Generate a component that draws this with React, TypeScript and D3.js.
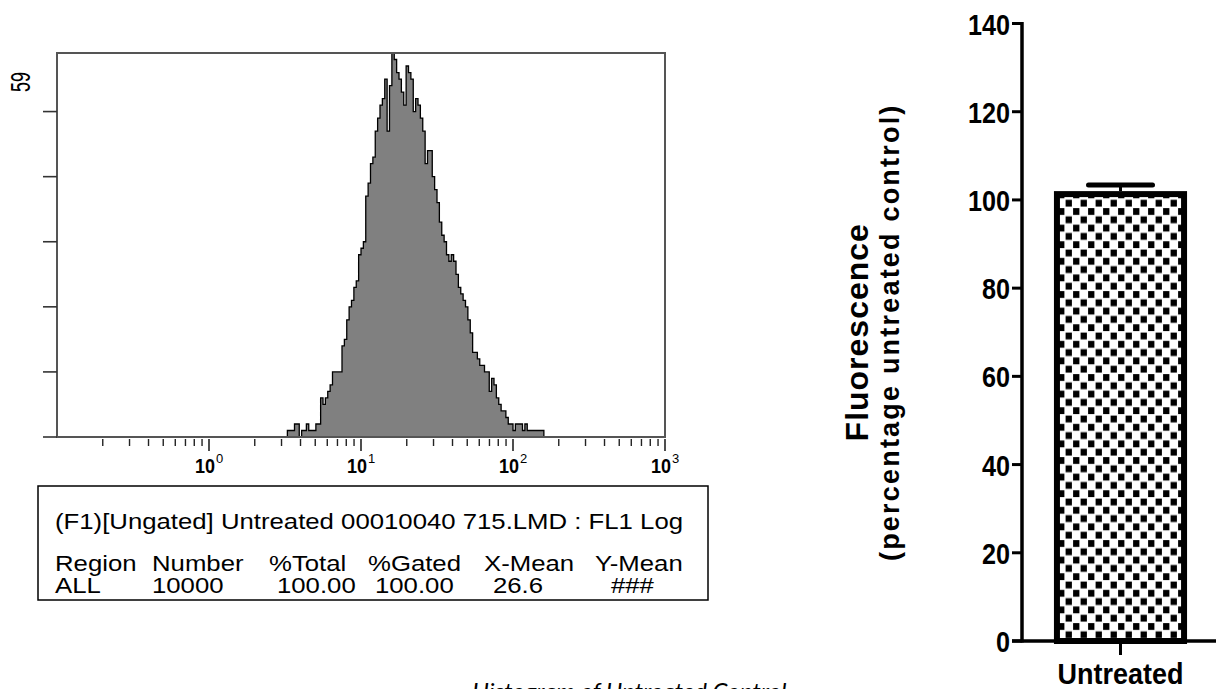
import React from 'react';
import * as d3 from 'd3';

// ---------------- Histogram (FL1 log, 64 channels per decade) ----------------
const histFirstChannel = 97;
const histCounts = [
  1, 1, 1, 2, 2, 0, 1, 1, 2, 1, 1, 1, 2, 2, 6, 5, 6, 7, 8, 10, 10, 10, 10, 14, 15, 18,
  20, 21, 23, 24, 28, 29, 30, 37, 39, 42, 43, 47, 49, 51, 52, 55, 47, 54, 59, 58, 56,
  55, 53, 51, 57, 56, 55, 50, 52, 51, 49, 47, 42, 44, 44, 40, 38, 36, 33, 31, 30, 28,
  27, 28, 27, 25, 23, 22, 21, 20, 18, 16, 13, 13, 12, 11, 11, 10, 10, 7, 9, 8, 6, 5, 4,
  4, 3, 2, 2, 1, 2, 2, 2, 1, 2, 1, 1, 1, 1, 1, 1, 1,
];
const channelsPerDecade = 64;
const histDomain = [0.1, 1000];
const histMajorExp = [0, 1, 2, 3];
const histMinorMult = [2, 3, 4, 5, 6, 7, 8, 9];
const histMinorExp = [-1, 0, 1, 2];
const histYTicks = [0, 10, 20, 30, 40, 50];
const histYMax = 59;

// ---------------- Stats box ----------------
const statsHeader = '(F1)[Ungated] Untreated 00010040 715.LMD : FL1 Log';
const statsColumns = ['Region', 'Number', '%Total', '%Gated', 'X-Mean', 'Y-Mean'];
const statsValues = ['ALL', '10000', '100.00', '100.00', '26.6', '###'];
const caption = 'Histogram of Untreated Control';

// ---------------- Bar chart ----------------
const barCategories = ['Untreated'];
const barValues = [102];
const barErrors = [1.4];
const barYTicks = [0, 20, 40, 60, 80, 100, 120, 140];
const barYLabel = 'Fluorescence';
const barYSubLabel = '(percentage untreated control)';

// layout
const W = 1216;
const H = 689;
const HB = { left: 57, right: 665, top: 53, bottom: 437 };
const headerCols = [55, 152, 269, 368, 484, 595];
const valueCols = [55, 152, 277, 375, 493, 611];
const FF = "'Liberation Sans', Arial, Helvetica, sans-serif";
const TXT_K = 1.17;
const TXT_SIZE = 22;

export default function App() {
  const xH = d3.scaleLog().domain(histDomain).range([HB.left, HB.right]);
  const yH = d3.scaleLinear().domain([0, histYMax]).range([HB.bottom, HB.top]);
  const chanVal = (c: number) => Math.pow(10, Math.log10(histDomain[0]) + c / channelsPerDecade);

  type P = { v: number; n: number };
  const pts: P[] = histCounts.map((n, i) => ({ v: chanVal(histFirstChannel + i), n }));
  pts.push({ v: chanVal(histFirstChannel + histCounts.length), n: 0 });
  const areaGen = d3
    .area<P>()
    .x((d) => xH(d.v))
    .y0(yH(0))
    .y1((d) => yH(d.n))
    .curve(d3.curveStepAfter);
  const lineGen = d3
    .line<P>()
    .x((d) => xH(d.v))
    .y((d) => yH(d.n))
    .curve(d3.curveStepAfter);
  const outline = [{ v: pts[0].v, n: 0 }, ...pts];

  const minorVals: number[] = [];
  histMinorExp.forEach((e) => histMinorMult.forEach((m) => minorVals.push(m * Math.pow(10, e))));

  // bar chart scales
  const yB = d3.scaleLinear().domain([0, 140]).range([641, 23.5]);
  const xB = d3
    .scaleBand()
    .domain(barCategories)
    .range([1022, 1219])
    .paddingInner(0)
    .paddingOuter(0.24);
  const bw = xB.bandwidth();
  const axisX = 1022;
  const sw = 6;
  const yMid = (yB(0) + yB(140)) / 2;

  return (
    <svg
      width={W}
      height={H}
      viewBox={`0 0 ${W} ${H}`}
      style={{ position: 'absolute', left: 0, top: 0, background: '#fff', overflow: 'hidden' }}
    >
      <defs>
        <pattern id="checker" width={15} height={16.6} patternUnits="userSpaceOnUse">
          <rect x={0} y={0} width={15} height={16.6} fill="#fff" />
          <rect x={0.6} y={0.6} width={6.3} height={6.8} fill="#000" />
          <rect x={8.1} y={8.9} width={6.3} height={6.8} fill="#000" />
        </pattern>
      </defs>
      <rect x={0} y={0} width={W} height={H} fill="#fff" />

      {/* ---------- Histogram ---------- */}
      <path d={areaGen(pts) || ''} fill="#808080" stroke="none" />
      <path d={lineGen(outline) || ''} fill="none" stroke="#000" strokeWidth={1.3} />
      <rect
        x={HB.left}
        y={HB.top}
        width={HB.right - HB.left}
        height={HB.bottom - HB.top}
        fill="none"
        stroke="#555"
        strokeWidth={2}
      />
      {histYTicks.map((t) => (
        <line key={'hy' + t} x1={43} x2={HB.left} y1={yH(t)} y2={yH(t)} stroke="#333" strokeWidth={1.6} />
      ))}
      <text
        transform={`translate(30, 82) scale(1.5,1) rotate(-90)`}
        textAnchor="middle"
        fontFamily={FF}
        fontSize={18}
        fill="#000"
      >
        {histYMax}
      </text>
      {minorVals.map((v) => (
        <line key={'mn' + v} x1={xH(v)} x2={xH(v)} y1={439} y2={446} stroke="#222" strokeWidth={1.4} />
      ))}
      {histMajorExp.map((e) => {
        const x = xH(Math.pow(10, e));
        return (
          <g key={'mj' + e}>
            <line x1={x} x2={x} y1={439} y2={451} stroke="#222" strokeWidth={1.6} />
            <text
              transform={`translate(${x + 6}, 473) scale(0.9,1)`}
              textAnchor="end"
              fontFamily={FF}
              fontWeight="bold"
              fontSize={20}
              fill="#000"
            >
              10
            </text>
            <text x={x + 7} y={463} fontFamily={FF} fontSize={13} fill="#000">
              {e}
            </text>
          </g>
        );
      })}

      {/* ---------- Stats box ---------- */}
      <rect x={38} y={486} width={670} height={114} fill="none" stroke="#000" strokeWidth={1.5} />
      <text
        transform={`translate(55, 529) scale(${TXT_K},1)`}
        fontFamily={FF}
        fontSize={TXT_SIZE}
        fill="#000"
      >
        {statsHeader}
      </text>
      {statsColumns.map((c, i) => (
        <text
          key={'sc' + i}
          transform={`translate(${headerCols[i]}, 571) scale(${TXT_K},1)`}
          fontFamily={FF}
          fontSize={TXT_SIZE}
          fill="#000"
        >
          {c}
        </text>
      ))}
      {statsValues.map((c, i) => (
        <text
          key={'sv' + i}
          transform={`translate(${valueCols[i]}, 593) scale(${TXT_K},1)`}
          fontFamily={FF}
          fontSize={TXT_SIZE}
          fill="#000"
        >
          {c}
        </text>
      ))}

      {/* caption (cut by the bottom edge) */}
      <text x={472} y={700} fontFamily="Lato, 'Open Sans', sans-serif" fontStyle="italic" fontSize={24} fill="#000">
        {caption}
      </text>

      {/* ---------- Bar chart ---------- */}
      {barCategories.map((c, i) => {
        const x0 = xB(c) as number;
        const cx = x0 + bw / 2;
        return (
          <g key={'bar' + c}>
            <line
              x1={cx}
              x2={cx}
              y1={yB(barValues[i])}
              y2={yB(barValues[i] + barErrors[i])}
              stroke="#000"
              strokeWidth={3}
            />
            <line
              x1={cx - 32}
              x2={cx + 32}
              y1={yB(barValues[i] + barErrors[i])}
              y2={yB(barValues[i] + barErrors[i])}
              stroke="#000"
              strokeWidth={5}
              strokeLinecap="round"
            />
            <rect
              x={x0 + sw / 2}
              y={yB(barValues[i]) + sw / 2}
              width={bw - sw}
              height={yB(0) - yB(barValues[i]) - sw / 2}
              fill="url(#checker)"
              stroke="#000"
              strokeWidth={sw}
            />
            <line x1={cx} x2={cx} y1={yB(0)} y2={yB(0) + 14} stroke="#000" strokeWidth={3} />
            <text
              transform={`translate(${cx}, 684) scale(0.9,1)`}
              textAnchor="middle"
              fontFamily={FF}
              fontWeight="bold"
              fontSize={30}
              fill="#000"
            >
              {c}
            </text>
          </g>
        );
      })}
      <line x1={axisX} x2={axisX} y1={yB(140) - 1.5} y2={yB(0) + 1.5} stroke="#000" strokeWidth={3.5} />
      <line x1={1012} x2={W} y1={yB(0)} y2={yB(0)} stroke="#000" strokeWidth={3.5} />
      {barYTicks.map((t) => (
        <g key={'by' + t}>
          <line x1={1012} x2={axisX} y1={yB(t)} y2={yB(t)} stroke="#000" strokeWidth={3} />
          <text
            transform={`translate(1010, ${yB(t) + 11}) scale(0.84,1)`}
            textAnchor="end"
            fontFamily={FF}
            fontWeight="bold"
            fontSize={30}
            fill="#000"
          >
            {t}
          </text>
        </g>
      ))}
      <text
        transform={`translate(868, ${yMid}) rotate(-90)`}
        textAnchor="middle"
        fontFamily={FF}
        fontWeight="bold"
        fontSize={32}
        letterSpacing={1}
        fill="#000"
      >
        {barYLabel}
      </text>
      <text
        transform={`translate(899, ${yMid}) rotate(-90)`}
        textAnchor="middle"
        fontFamily={FF}
        fontWeight="bold"
        fontSize={27}
        letterSpacing={2.2}
        fill="#000"
      >
        {barYSubLabel}
      </text>
    </svg>
  );
}
